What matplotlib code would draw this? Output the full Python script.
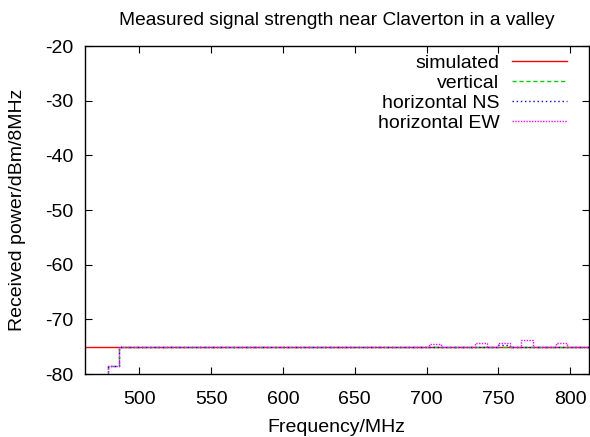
import matplotlib
matplotlib.use('Agg')
import matplotlib.pyplot as plt
import numpy as np

plt.rcParams['font.family'] = ['Liberation Sans', 'DejaVu Sans']
plt.rcParams['axes.unicode_minus'] = False

# channel edges in MHz (8 MHz UHF channels)
freq_edges = np.arange(470, 815, 8)

sim_freq = [462, 814]
sim_power = [-75, -75]

vertical = [-82.0, -78.5, -75.0, -75.0, -75.0, -75.0, -75.0, -75.0, -75.0, -75.0,
            -75.0, -75.0, -75.0, -75.0, -75.0, -75.0, -75.0, -75.0, -75.0, -75.0,
            -75.0, -75.0, -75.0, -75.0, -75.0, -75.0, -75.0, -75.0, -75.0, -75.0,
            -75.0, -75.0, -75.0, -75.0, -75.0, -75.0, -75.0, -75.0, -75.0, -75.0,
            -75.0, -75.0, -75.0, -75.0]
horiz_ns = [-82.0, -78.5, -75.0, -75.0, -75.0, -75.0, -75.0, -75.0, -75.0, -75.0,
            -75.0, -75.0, -75.0, -75.0, -75.0, -75.0, -75.0, -75.0, -75.0, -75.0,
            -75.0, -75.0, -75.0, -75.0, -75.0, -75.0, -75.0, -75.0, -75.0, -75.0,
            -75.0, -75.0, -75.0, -75.0, -75.0, -74.6, -75.0, -75.0, -75.0, -75.0,
            -75.0, -75.0, -75.0, -75.0]
horiz_ew = [-82.0, -78.5, -75.0, -75.0, -75.0, -75.0, -75.0, -75.0, -75.0, -75.0,
            -75.0, -75.0, -75.0, -75.0, -75.0, -75.0, -75.0, -75.0, -75.0, -75.0,
            -75.0, -75.0, -75.0, -75.0, -75.0, -75.0, -75.0, -75.0, -75.0, -74.5,
            -75.0, -75.0, -75.0, -74.4, -75.0, -74.3, -75.0, -73.8, -75.0, -75.0,
            -74.4, -75.0, -75.0, -75.0]

fig = plt.figure(figsize=(5.9, 4.37), dpi=100)
ax = fig.add_axes([0.1436, 0.144, 0.8544, 0.7507])

ax.plot(sim_freq, sim_power, color='#ff0000', lw=1.0, label='simulated')
ax.step(freq_edges, vertical, where='post', color='#00d000', lw=1.0,
        ls=(0, (3, 2)), label='vertical')
ax.step(freq_edges, horiz_ns, where='post', color='#0000ff', lw=1.0,
        ls=(0, (1, 2)), label='horizontal NS')
ax.step(freq_edges, horiz_ew, where='post', color='#ff00ff', lw=1.0,
        ls=(0, (1, 1)), label='horizontal EW')

ax.set_xlim(462, 813)
ax.set_ylim(-80, -20)
ax.set_xticks([500, 550, 600, 650, 700, 750, 800])
ax.set_yticks([-80, -70, -60, -50, -40, -30, -20])
ax.tick_params(direction='in', length=5, top=True, right=True, labelsize=14)
ax.tick_params(axis='x', pad=12)
ax.tick_params(axis='y', pad=8)
for s in ax.spines.values():
    s.set_linewidth(1.0)

ax.set_xlabel('Frequency/MHz', fontsize=14, labelpad=8)
ax.set_ylabel('Received power/dBm/8MHz', fontsize=14, labelpad=14)
ax.set_title('Measured signal strength near Claverton in a valley', fontsize=13.8, pad=15)

ax.legend(loc='upper right', bbox_to_anchor=(0.956, 0.975), frameon=False,
          markerfirst=False, fontsize=14, handlelength=2.8, labelspacing=0.13,
          borderaxespad=0.0, borderpad=0.0, handletextpad=0.65)

fig.savefig('out.png', dpi=100)
